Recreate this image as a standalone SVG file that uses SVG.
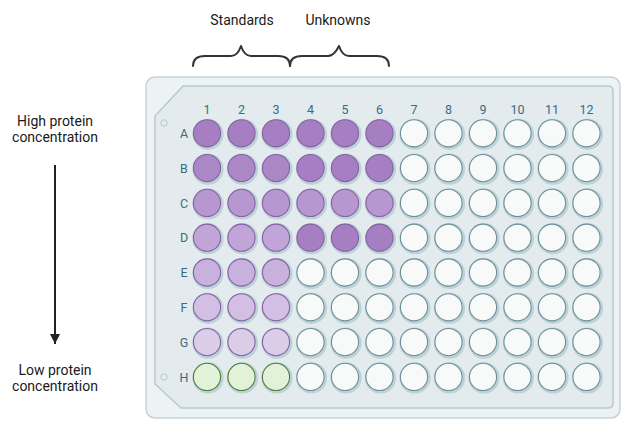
<svg xmlns="http://www.w3.org/2000/svg" xmlns:xlink="http://www.w3.org/1999/xlink" width="621" height="421" viewBox="0 0 621 421">
<style>
text{font-family:Roboto,"Liberation Sans",sans-serif}
.side{font-size:14px;fill:#1a1a1a;text-anchor:middle}
.lab{font-size:12.5px;fill:#3e6a80;text-anchor:middle}
.halo{fill:#bcd2d8}
.w{stroke-width:1.1}
.e{fill:#f8f9f9;stroke:#6e8f98}
.p{stroke:#8463a2}
.g{fill:#e1f2d9;stroke:#4f7f3a}
.a{fill:#a67fc2}.b{fill:#ab87c6}.c{fill:#b897d0}.d{fill:#c1a4d8}.ee{fill:#c9b1de}.f{fill:#d2bfe3}.gg{fill:#dbcce8}
.brace{fill:none;stroke:#333;stroke-width:2;stroke-linejoin:round;stroke-linecap:round}
</style>
<defs>
<marker id="ah" viewBox="0 0 10 10" refX="10" refY="5" markerWidth="5" markerHeight="5" orient="auto" markerUnits="strokeWidth">
<path d="M0,0L10,5L0,10z" fill="#222"/>
</marker>
<circle id="h" r="15.6" class="halo"/>
</defs>
<rect width="621" height="421" fill="#fff"/>
<g id="labels">
<text class="side" x="55" y="126">High protein</text>
<text class="side" x="55" y="142">concentration</text>
<text class="side" x="55" y="375">Low protein</text>
<text class="side" x="55" y="391">concentration</text>
<text class="side" x="242" y="25">Standards</text>
<text class="side" x="338" y="25">Unknowns</text>
</g>
<g id="connectors">
<line x1="55" y1="165" x2="55" y2="344" stroke="#222" stroke-width="2" marker-end="url(#ah)"/>
<path class="brace" d="M193,66 C193,59 197,56 205,56 L231,56 C236,56 239,52 241,46 C243,52 246,56 251,56 L278,56 C286,56 290,59 290,66"/>
<path class="brace" d="M290,66 C290,59 294,56 302,56 L328,56 C333,56 336,52 339,46 C341,52 344,56 349,56 L377,56 C385,56 389,59 389,66"/>
</g>
<g id="plate">
<rect x="146" y="77" width="474" height="341" rx="9" fill="#edf2f4" stroke="#c4d3d8" stroke-width="1.5"/>
<path d="M183,86 L608,86 Q613,86 613,91 L613,403 Q613,408 608,408 L181,408 L155,384 L155,116 Z" fill="#e3ebee" stroke="#b7c9cf" stroke-width="1.5"/>
<circle cx="164" cy="123" r="3.2" fill="none" stroke="#b7c9cf" stroke-width="1"/>
<circle cx="164" cy="377" r="3.2" fill="none" stroke="#b7c9cf" stroke-width="1"/>
</g>
<g id="plate-labels">
<text class="lab" x="207" y="114">1</text><text class="lab" x="241.5" y="114">2</text><text class="lab" x="276" y="114">3</text><text class="lab" x="310.5" y="114">4</text><text class="lab" x="345" y="114">5</text><text class="lab" x="379.5" y="114">6</text><text class="lab" x="414" y="114">7</text><text class="lab" x="448.5" y="114">8</text><text class="lab" x="483" y="114">9</text><text class="lab" x="517.5" y="114">10</text><text class="lab" x="552" y="114">11</text><text class="lab" x="586.5" y="114">12</text>
<text class="lab" x="184" y="138">A</text><text class="lab" x="184" y="173">B</text><text class="lab" x="184" y="208">C</text><text class="lab" x="184" y="242">D</text><text class="lab" x="184" y="277">E</text><text class="lab" x="184" y="312">F</text><text class="lab" x="184" y="347">G</text><text class="lab" x="184" y="382">H</text>
</g>
<g id="wells">
<g id="row-A" transform="translate(0,133.3)">
<g id="A1"><use href="#h" x="208" y="1"/><circle class="w p a" cx="207" r="13.6"/></g>
<g id="A2"><use href="#h" x="242.5" y="1"/><circle class="w p a" cx="241.5" r="13.6"/></g>
<g id="A3"><use href="#h" x="277" y="1"/><circle class="w p a" cx="276" r="13.6"/></g>
<g id="A4"><use href="#h" x="311.5" y="1"/><circle class="w p a" cx="310.5" r="13.6"/></g>
<g id="A5"><use href="#h" x="346" y="1"/><circle class="w p a" cx="345" r="13.6"/></g>
<g id="A6"><use href="#h" x="380.5" y="1"/><circle class="w p a" cx="379.5" r="13.6"/></g>
<g id="A7"><use href="#h" x="415" y="1"/><circle class="w e" cx="414" r="13.6"/></g>
<g id="A8"><use href="#h" x="449.5" y="1"/><circle class="w e" cx="448.5" r="13.6"/></g>
<g id="A9"><use href="#h" x="484" y="1"/><circle class="w e" cx="483" r="13.6"/></g>
<g id="A10"><use href="#h" x="518.5" y="1"/><circle class="w e" cx="517.5" r="13.6"/></g>
<g id="A11"><use href="#h" x="553" y="1"/><circle class="w e" cx="552" r="13.6"/></g>
<g id="A12"><use href="#h" x="587.5" y="1"/><circle class="w e" cx="586.5" r="13.6"/></g>
</g>
<g id="row-B" transform="translate(0,168.1)">
<g id="B1"><use href="#h" x="208" y="1"/><circle class="w p b" cx="207" r="13.6"/></g>
<g id="B2"><use href="#h" x="242.5" y="1"/><circle class="w p b" cx="241.5" r="13.6"/></g>
<g id="B3"><use href="#h" x="277" y="1"/><circle class="w p b" cx="276" r="13.6"/></g>
<g id="B4"><use href="#h" x="311.5" y="1"/><circle class="w p a" cx="310.5" r="13.6"/></g>
<g id="B5"><use href="#h" x="346" y="1"/><circle class="w p a" cx="345" r="13.6"/></g>
<g id="B6"><use href="#h" x="380.5" y="1"/><circle class="w p a" cx="379.5" r="13.6"/></g>
<g id="B7"><use href="#h" x="415" y="1"/><circle class="w e" cx="414" r="13.6"/></g>
<g id="B8"><use href="#h" x="449.5" y="1"/><circle class="w e" cx="448.5" r="13.6"/></g>
<g id="B9"><use href="#h" x="484" y="1"/><circle class="w e" cx="483" r="13.6"/></g>
<g id="B10"><use href="#h" x="518.5" y="1"/><circle class="w e" cx="517.5" r="13.6"/></g>
<g id="B11"><use href="#h" x="553" y="1"/><circle class="w e" cx="552" r="13.6"/></g>
<g id="B12"><use href="#h" x="587.5" y="1"/><circle class="w e" cx="586.5" r="13.6"/></g>
</g>
<g id="row-C" transform="translate(0,202.9)">
<g id="C1"><use href="#h" x="208" y="1"/><circle class="w p c" cx="207" r="13.6"/></g>
<g id="C2"><use href="#h" x="242.5" y="1"/><circle class="w p c" cx="241.5" r="13.6"/></g>
<g id="C3"><use href="#h" x="277" y="1"/><circle class="w p c" cx="276" r="13.6"/></g>
<g id="C4"><use href="#h" x="311.5" y="1"/><circle class="w p c" cx="310.5" r="13.6"/></g>
<g id="C5"><use href="#h" x="346" y="1"/><circle class="w p c" cx="345" r="13.6"/></g>
<g id="C6"><use href="#h" x="380.5" y="1"/><circle class="w p c" cx="379.5" r="13.6"/></g>
<g id="C7"><use href="#h" x="415" y="1"/><circle class="w e" cx="414" r="13.6"/></g>
<g id="C8"><use href="#h" x="449.5" y="1"/><circle class="w e" cx="448.5" r="13.6"/></g>
<g id="C9"><use href="#h" x="484" y="1"/><circle class="w e" cx="483" r="13.6"/></g>
<g id="C10"><use href="#h" x="518.5" y="1"/><circle class="w e" cx="517.5" r="13.6"/></g>
<g id="C11"><use href="#h" x="553" y="1"/><circle class="w e" cx="552" r="13.6"/></g>
<g id="C12"><use href="#h" x="587.5" y="1"/><circle class="w e" cx="586.5" r="13.6"/></g>
</g>
<g id="row-D" transform="translate(0,237.7)">
<g id="D1"><use href="#h" x="208" y="1"/><circle class="w p d" cx="207" r="13.6"/></g>
<g id="D2"><use href="#h" x="242.5" y="1"/><circle class="w p d" cx="241.5" r="13.6"/></g>
<g id="D3"><use href="#h" x="277" y="1"/><circle class="w p d" cx="276" r="13.6"/></g>
<g id="D4"><use href="#h" x="311.5" y="1"/><circle class="w p a" cx="310.5" r="13.6"/></g>
<g id="D5"><use href="#h" x="346" y="1"/><circle class="w p a" cx="345" r="13.6"/></g>
<g id="D6"><use href="#h" x="380.5" y="1"/><circle class="w p a" cx="379.5" r="13.6"/></g>
<g id="D7"><use href="#h" x="415" y="1"/><circle class="w e" cx="414" r="13.6"/></g>
<g id="D8"><use href="#h" x="449.5" y="1"/><circle class="w e" cx="448.5" r="13.6"/></g>
<g id="D9"><use href="#h" x="484" y="1"/><circle class="w e" cx="483" r="13.6"/></g>
<g id="D10"><use href="#h" x="518.5" y="1"/><circle class="w e" cx="517.5" r="13.6"/></g>
<g id="D11"><use href="#h" x="553" y="1"/><circle class="w e" cx="552" r="13.6"/></g>
<g id="D12"><use href="#h" x="587.5" y="1"/><circle class="w e" cx="586.5" r="13.6"/></g>
</g>
<g id="row-E" transform="translate(0,272.5)">
<g id="E1"><use href="#h" x="208" y="1"/><circle class="w p ee" cx="207" r="13.6"/></g>
<g id="E2"><use href="#h" x="242.5" y="1"/><circle class="w p ee" cx="241.5" r="13.6"/></g>
<g id="E3"><use href="#h" x="277" y="1"/><circle class="w p ee" cx="276" r="13.6"/></g>
<g id="E4"><use href="#h" x="311.5" y="1"/><circle class="w e" cx="310.5" r="13.6"/></g>
<g id="E5"><use href="#h" x="346" y="1"/><circle class="w e" cx="345" r="13.6"/></g>
<g id="E6"><use href="#h" x="380.5" y="1"/><circle class="w e" cx="379.5" r="13.6"/></g>
<g id="E7"><use href="#h" x="415" y="1"/><circle class="w e" cx="414" r="13.6"/></g>
<g id="E8"><use href="#h" x="449.5" y="1"/><circle class="w e" cx="448.5" r="13.6"/></g>
<g id="E9"><use href="#h" x="484" y="1"/><circle class="w e" cx="483" r="13.6"/></g>
<g id="E10"><use href="#h" x="518.5" y="1"/><circle class="w e" cx="517.5" r="13.6"/></g>
<g id="E11"><use href="#h" x="553" y="1"/><circle class="w e" cx="552" r="13.6"/></g>
<g id="E12"><use href="#h" x="587.5" y="1"/><circle class="w e" cx="586.5" r="13.6"/></g>
</g>
<g id="row-F" transform="translate(0,307.3)">
<g id="F1"><use href="#h" x="208" y="1"/><circle class="w p f" cx="207" r="13.6"/></g>
<g id="F2"><use href="#h" x="242.5" y="1"/><circle class="w p f" cx="241.5" r="13.6"/></g>
<g id="F3"><use href="#h" x="277" y="1"/><circle class="w p f" cx="276" r="13.6"/></g>
<g id="F4"><use href="#h" x="311.5" y="1"/><circle class="w e" cx="310.5" r="13.6"/></g>
<g id="F5"><use href="#h" x="346" y="1"/><circle class="w e" cx="345" r="13.6"/></g>
<g id="F6"><use href="#h" x="380.5" y="1"/><circle class="w e" cx="379.5" r="13.6"/></g>
<g id="F7"><use href="#h" x="415" y="1"/><circle class="w e" cx="414" r="13.6"/></g>
<g id="F8"><use href="#h" x="449.5" y="1"/><circle class="w e" cx="448.5" r="13.6"/></g>
<g id="F9"><use href="#h" x="484" y="1"/><circle class="w e" cx="483" r="13.6"/></g>
<g id="F10"><use href="#h" x="518.5" y="1"/><circle class="w e" cx="517.5" r="13.6"/></g>
<g id="F11"><use href="#h" x="553" y="1"/><circle class="w e" cx="552" r="13.6"/></g>
<g id="F12"><use href="#h" x="587.5" y="1"/><circle class="w e" cx="586.5" r="13.6"/></g>
</g>
<g id="row-G" transform="translate(0,342.1)">
<g id="G1"><use href="#h" x="208" y="1"/><circle class="w p gg" cx="207" r="13.6"/></g>
<g id="G2"><use href="#h" x="242.5" y="1"/><circle class="w p gg" cx="241.5" r="13.6"/></g>
<g id="G3"><use href="#h" x="277" y="1"/><circle class="w p gg" cx="276" r="13.6"/></g>
<g id="G4"><use href="#h" x="311.5" y="1"/><circle class="w e" cx="310.5" r="13.6"/></g>
<g id="G5"><use href="#h" x="346" y="1"/><circle class="w e" cx="345" r="13.6"/></g>
<g id="G6"><use href="#h" x="380.5" y="1"/><circle class="w e" cx="379.5" r="13.6"/></g>
<g id="G7"><use href="#h" x="415" y="1"/><circle class="w e" cx="414" r="13.6"/></g>
<g id="G8"><use href="#h" x="449.5" y="1"/><circle class="w e" cx="448.5" r="13.6"/></g>
<g id="G9"><use href="#h" x="484" y="1"/><circle class="w e" cx="483" r="13.6"/></g>
<g id="G10"><use href="#h" x="518.5" y="1"/><circle class="w e" cx="517.5" r="13.6"/></g>
<g id="G11"><use href="#h" x="553" y="1"/><circle class="w e" cx="552" r="13.6"/></g>
<g id="G12"><use href="#h" x="587.5" y="1"/><circle class="w e" cx="586.5" r="13.6"/></g>
</g>
<g id="row-H" transform="translate(0,376.9)">
<g id="H1"><use href="#h" x="208" y="1"/><circle class="w g" cx="207" r="13.6"/></g>
<g id="H2"><use href="#h" x="242.5" y="1"/><circle class="w g" cx="241.5" r="13.6"/></g>
<g id="H3"><use href="#h" x="277" y="1"/><circle class="w g" cx="276" r="13.6"/></g>
<g id="H4"><use href="#h" x="311.5" y="1"/><circle class="w e" cx="310.5" r="13.6"/></g>
<g id="H5"><use href="#h" x="346" y="1"/><circle class="w e" cx="345" r="13.6"/></g>
<g id="H6"><use href="#h" x="380.5" y="1"/><circle class="w e" cx="379.5" r="13.6"/></g>
<g id="H7"><use href="#h" x="415" y="1"/><circle class="w e" cx="414" r="13.6"/></g>
<g id="H8"><use href="#h" x="449.5" y="1"/><circle class="w e" cx="448.5" r="13.6"/></g>
<g id="H9"><use href="#h" x="484" y="1"/><circle class="w e" cx="483" r="13.6"/></g>
<g id="H10"><use href="#h" x="518.5" y="1"/><circle class="w e" cx="517.5" r="13.6"/></g>
<g id="H11"><use href="#h" x="553" y="1"/><circle class="w e" cx="552" r="13.6"/></g>
<g id="H12"><use href="#h" x="587.5" y="1"/><circle class="w e" cx="586.5" r="13.6"/></g>
</g>
</g>
</svg>
